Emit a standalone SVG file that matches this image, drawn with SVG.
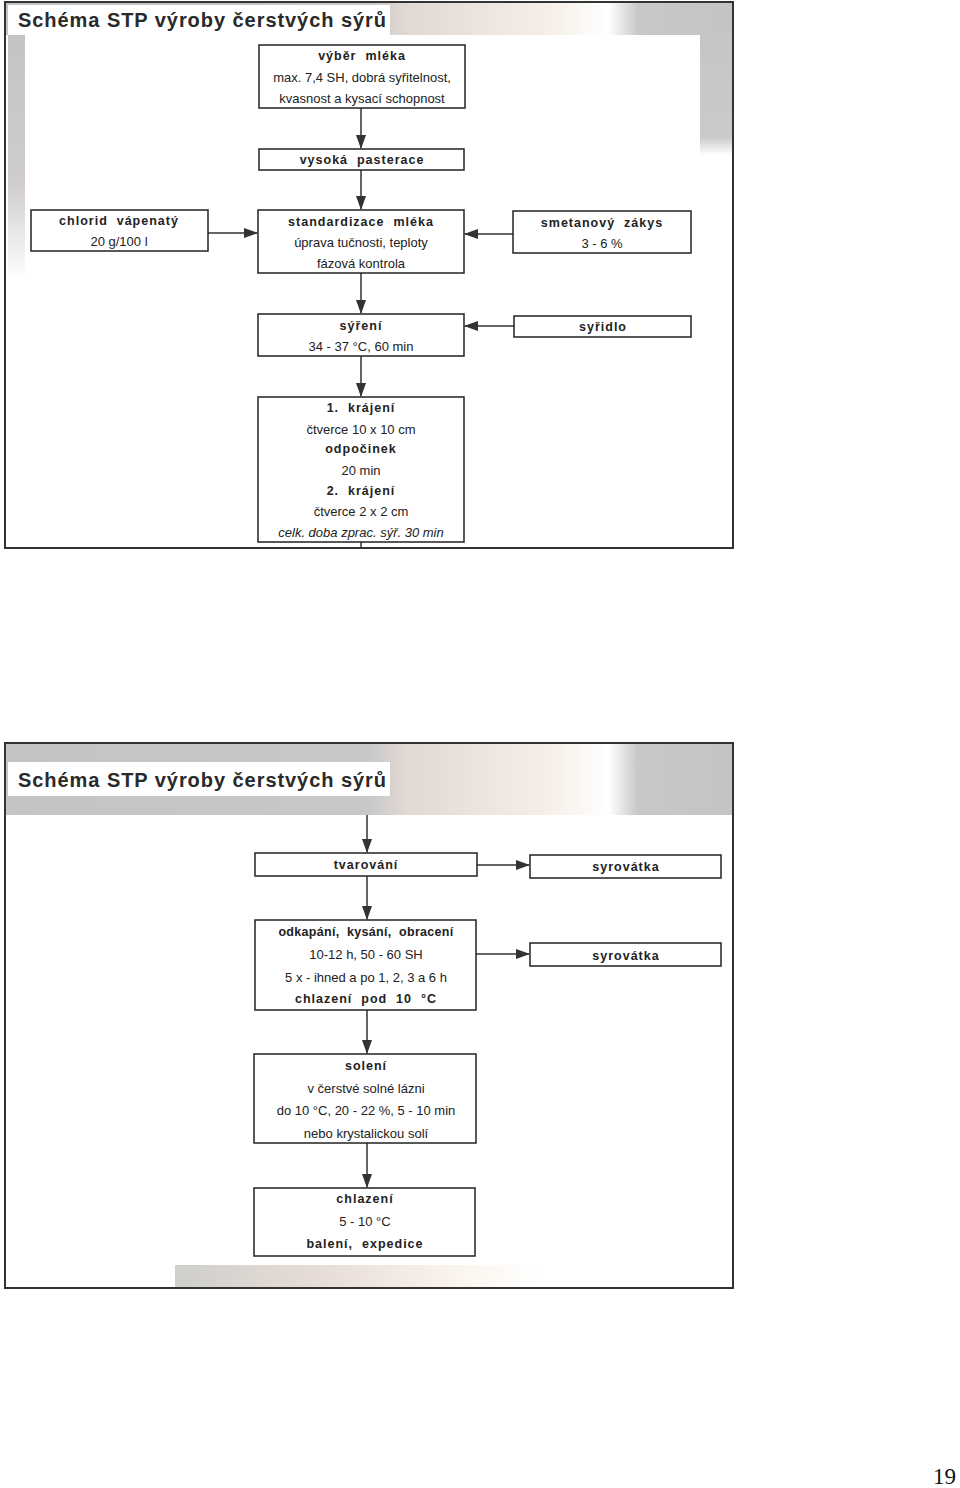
<svg xmlns="http://www.w3.org/2000/svg" width="960" height="1488" viewBox="0 0 960 1488">
<defs>
<style>
.bx{fill:#fff;stroke:#222;stroke-width:1.5}
.b{font-family:"Liberation Sans",Arial,sans-serif;font-weight:bold;font-size:12.5px;letter-spacing:1px;fill:#222;text-anchor:middle;dominant-baseline:central;white-space:pre}
.r{font-family:"Liberation Sans Narrow","Liberation Sans",Arial,sans-serif;font-stretch:condensed;font-size:13px;fill:#222;text-anchor:middle;dominant-baseline:central}
.i{font-style:italic}
.t{font-family:"Liberation Sans Narrow","Liberation Sans",Arial,sans-serif;font-stretch:condensed;font-weight:bold;font-size:20px;fill:#2a2a2a;dominant-baseline:central}
.ln{stroke:#333;stroke-width:1.5;fill:none}
.frame{fill:#fff;stroke:#333;stroke-width:2}
</style>
<marker id="ah" viewBox="0 0 14 10" refX="13" refY="5" markerWidth="14" markerHeight="10" markerUnits="userSpaceOnUse" orient="auto">
<path d="M0,0 L14,5 L0,10 Z" fill="#333"/>
</marker>
<linearGradient id="hg" x1="0" y1="0" x2="1" y2="0">
<stop offset="0" stop-color="#c4c4c4"/>
<stop offset="0.5" stop-color="#c8c8c8"/>
<stop offset="0.55" stop-color="#e2d8d2"/>
<stop offset="0.75" stop-color="#f6efe8"/>
<stop offset="0.83" stop-color="#ffffff"/>
<stop offset="0.87" stop-color="#c8c8c8"/>
<stop offset="1" stop-color="#c4c4c4"/>
</linearGradient>
<linearGradient id="lg" x1="0" y1="0" x2="0" y2="1">
<stop offset="0" stop-color="#c4c4c4"/>
<stop offset="0.6" stop-color="#d0cccc"/>
<stop offset="1" stop-color="#ffffff"/>
</linearGradient>
<linearGradient id="rg" x1="0" y1="0" x2="0" y2="1">
<stop offset="0" stop-color="#c6c6c6"/>
<stop offset="0.85" stop-color="#cacaca"/>
<stop offset="1" stop-color="#ffffff"/>
</linearGradient>
<linearGradient id="bg" x1="0" y1="0" x2="1" y2="0">
<stop offset="0" stop-color="#cfcfcc"/>
<stop offset="0.4" stop-color="#e8dcd6"/>
<stop offset="0.8" stop-color="#fbf6ef"/>
<stop offset="1" stop-color="#ffffff"/>
</linearGradient>
</defs>

<rect width="960" height="1488" fill="#fff"/>

<!-- top slide background -->
<g id="slide1-bg">
<rect class="frame" x="5" y="2" width="728" height="546"/>
<rect x="6" y="3" width="726" height="32" fill="url(#hg)"/>
<rect x="700" y="35" width="32" height="120" fill="url(#rg)"/>
<rect x="8" y="35" width="17" height="245" fill="url(#lg)"/>
<rect x="8" y="5" width="382" height="30" fill="#fff"/>
<text class="t" x="18" y="20" textLength="368" lengthAdjust="spacing">Schéma STP výroby čerstvých sýrů</text>
</g>

<!-- bottom slide background -->
<g id="slide2-bg">
<rect class="frame" x="5" y="743" width="728" height="545"/>
<rect x="6" y="744" width="726" height="71" fill="url(#hg)"/>
<rect x="175" y="1265" width="365" height="22" fill="url(#bg)"/>
<rect x="8" y="762" width="382" height="34" fill="#fff"/>
<text class="t" x="18" y="780" textLength="368" lengthAdjust="spacing">Schéma STP výroby čerstvých sýrů</text>
</g>

<g id="connectors">
<line class="ln" x1="361" y1="108" x2="361" y2="148" marker-end="url(#ah)"/>
<line class="ln" x1="361" y1="170" x2="361" y2="209" marker-end="url(#ah)"/>
<line class="ln" x1="208" y1="233" x2="257" y2="233" marker-end="url(#ah)"/>
<line class="ln" x1="513" y1="234" x2="465" y2="234" marker-end="url(#ah)"/>
<line class="ln" x1="361" y1="273" x2="361" y2="313" marker-end="url(#ah)"/>
<line class="ln" x1="514" y1="326" x2="465" y2="326" marker-end="url(#ah)"/>
<line class="ln" x1="361" y1="356" x2="361" y2="396" marker-end="url(#ah)"/>
<line class="ln" x1="361" y1="542" x2="361" y2="548"/>
<line class="ln" x1="367" y1="815" x2="367" y2="852" marker-end="url(#ah)"/>
<line class="ln" x1="477" y1="865" x2="529" y2="865" marker-end="url(#ah)"/>
<line class="ln" x1="367" y1="876" x2="367" y2="919" marker-end="url(#ah)"/>
<line class="ln" x1="476" y1="954" x2="529" y2="954" marker-end="url(#ah)"/>
<line class="ln" x1="367" y1="1010" x2="367" y2="1053" marker-end="url(#ah)"/>
<line class="ln" x1="367" y1="1143" x2="367" y2="1187" marker-end="url(#ah)"/>
</g>

<g id="n-vyber">
<rect class="bx" x="259" y="45" width="206" height="63"/>
<text class="b" x="362" y="56">výběr  mléka</text>
<text class="r" x="362" y="77">max. 7,4 SH, dobrá syřitelnost,</text>
<text class="r" x="362" y="98">kvasnost a kysací schopnost</text>
</g>
<g id="n-pasterace">
<rect class="bx" x="259" y="149" width="205" height="21"/>
<text class="b" x="362" y="160">vysoká  pasterace</text>
</g>
<g id="n-chlorid">
<rect class="bx" x="31" y="210" width="177" height="41"/>
<text class="b" x="119" y="221">chlorid  vápenatý</text>
<text class="r" x="119" y="241">20 g/100 l</text>
</g>
<g id="n-standard">
<rect class="bx" x="258" y="210" width="206" height="63"/>
<text class="b" x="361" y="222">standardizace  mléka</text>
<text class="r" x="361" y="242">úprava tučnosti, teploty</text>
<text class="r" x="361" y="263">fázová kontrola</text>
</g>
<g id="n-zakys">
<rect class="bx" x="513" y="211" width="178" height="42"/>
<text class="b" x="602" y="223">smetanový  zákys</text>
<text class="r" x="602" y="243">3 - 6 %</text>
</g>
<g id="n-syreni">
<rect class="bx" x="258" y="314" width="206" height="42"/>
<text class="b" x="361" y="326">sýření</text>
<text class="r" x="361" y="346">34 - 37 °C, 60 min</text>
</g>
<g id="n-syridlo">
<rect class="bx" x="514" y="316" width="177" height="21"/>
<text class="b" x="603" y="327">syřidlo</text>
</g>
<g id="n-krajeni">
<rect class="bx" x="258" y="397" width="206" height="145"/>
<text class="b" x="361" y="408">1.  krájení</text>
<text class="r" x="361" y="429">čtverce 10 x 10 cm</text>
<text class="b" x="361" y="449">odpočinek</text>
<text class="r" x="361" y="470">20 min</text>
<text class="b" x="361" y="491">2.  krájení</text>
<text class="r" x="361" y="511">čtverce 2 x 2 cm</text>
<text class="r i" x="361" y="532">celk. doba zprac. sýř. 30 min</text>
</g>

<g id="n-tvarovani">
<rect class="bx" x="255" y="853" width="222" height="23"/>
<text class="b" x="366" y="865">tvarování</text>
</g>
<g id="n-syrovatka1">
<rect class="bx" x="530" y="855" width="191" height="23"/>
<text class="b" x="626" y="867">syrovátka</text>
</g>
<g id="n-odkapani">
<rect class="bx" x="255" y="920" width="221" height="90"/>
<text class="b" x="366" y="932" style="letter-spacing:0.3px">odkapání,  kysání,  obracení</text>
<text class="r" x="366" y="954">10-12 h, 50 - 60 SH</text>
<text class="r" x="366" y="977">5 x - ihned a po 1, 2, 3 a 6 h</text>
<text class="b" x="366" y="999">chlazení  pod  10  °C</text>
</g>
<g id="n-syrovatka2">
<rect class="bx" x="530" y="943" width="191" height="23"/>
<text class="b" x="626" y="956">syrovátka</text>
</g>
<g id="n-soleni">
<rect class="bx" x="254" y="1054" width="222" height="89"/>
<text class="b" x="366" y="1066">solení</text>
<text class="r" x="366" y="1088">v čerstvé solné lázni</text>
<text class="r" x="366" y="1110">do 10 °C, 20 - 22 %, 5 - 10 min</text>
<text class="r" x="366" y="1133">nebo krystalickou solí</text>
</g>
<g id="n-chlazeni">
<rect class="bx" x="254" y="1188" width="221" height="68"/>
<text class="b" x="365" y="1199">chlazení</text>
<text class="r" x="365" y="1221">5 - 10 °C</text>
<text class="b" x="365" y="1244">balení,  expedice</text>
</g>

<text x="956" y="1484" style="font-family:'Liberation Serif','Times New Roman',serif;font-size:23px;fill:#111;text-anchor:end">19</text>
</svg>
